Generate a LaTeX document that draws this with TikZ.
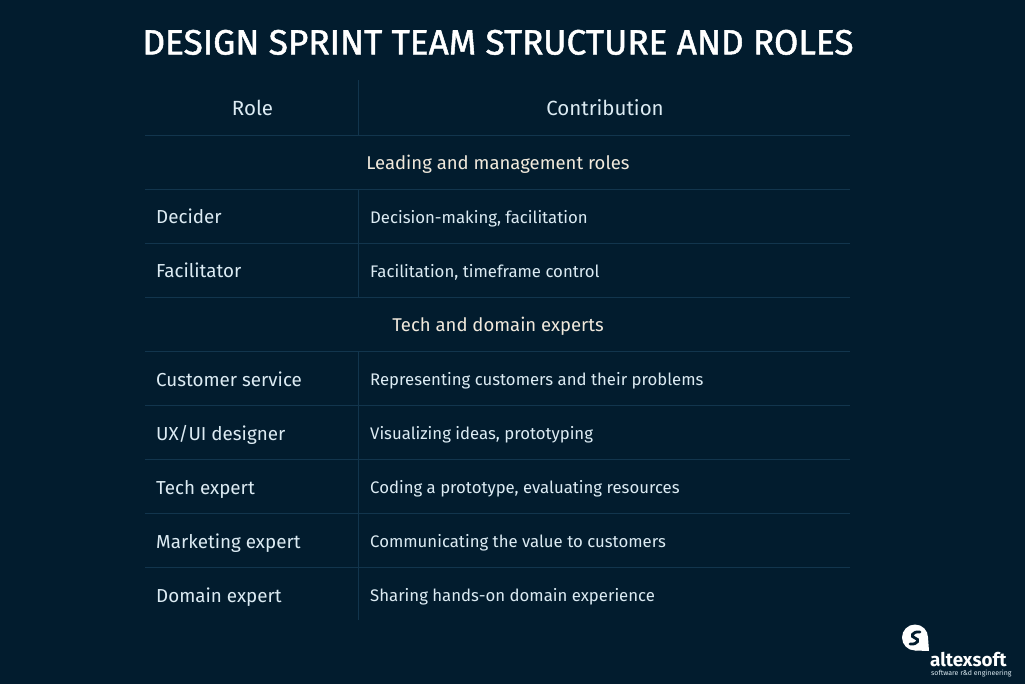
\documentclass[tikz,border=0pt]{standalone}
\usepackage{fontspec}
\setmainfont{Fira Sans}
\newfontfamily\titlefont[FakeBold=1.4]{Fira Sans}
\definecolor{bgcol}{HTML}{021C2E}
\definecolor{rulecol}{HTML}{12354D}
\definecolor{rolecol}{HTML}{DCEBF3}
\definecolor{sectcol}{HTML}{F1E9DC}
\begin{document}
\begin{tikzpicture}[x=1pt,y=-1pt,
  roletext/.style={anchor=base west,inner sep=0pt,text=rolecol,font=\fontsize{18.8}{19}\selectfont},
  conttext/.style={anchor=base west,inner sep=0pt,text=rolecol,font=\fontsize{16.75}{17}\selectfont},
  headtext/.style={anchor=base,inner sep=0pt,text=rolecol,font=\fontsize{20.5}{20}\selectfont},
  secttext/.style={anchor=base,inner sep=0pt,text=sectcol,font=\fontsize{18.5}{19}\selectfont},
  rowrule/.style={draw=rulecol,line width=1pt}]
    \fill[bgcol] (0,0) rectangle (1025,684);
    \useasboundingbox (0,0) rectangle (1025,684);
    \node[anchor=base,inner sep=0pt,text=white,font=\titlefont\fontsize{35.2}{35}\selectfont] (title) at (498,54.5) {DESIGN SPRINT TEAM STRUCTURE AND ROLES};
    % rules of the table
    \foreach \y/\name in {135.5/a,189.5/b,243.5/c,297.5/d,351.5/e,405.5/f,459.5/g,513.5/h,567.5/i} {
        \coordinate (l\name) at (145,\y);
        \coordinate (r\name) at (850,\y);
        \coordinate (m\name) at (358.5,\y);
        \draw[rowrule] (l\name) -- (r\name);
    }
    \coordinate (top) at (358.5,80);
    \coordinate (bot) at (358.5,620);
    \draw[rowrule] (top) -- (ma);
    \draw[rowrule] (mb) -- (md);
    \draw[rowrule] (me) -- (bot);
    % header
    \node[headtext] (role) at (252.5,116) {Role};
    \node[headtext] (contribution) at (605,116) {Contribution};
    \node[secttext] (leading) at (498,170) {Leading and management roles};
    \node[secttext] (tech) at (498,332) {Tech and domain experts};
    % rows
    \node[roletext] (decider) at (156,224) {Decider};
    \node[conttext] (deciderc) at (370,224) {Decision-making, facilitation};
    \node[roletext] (facil) at (156,278) {Facilitator};
    \node[conttext] (facilc) at (370,278) {Facilitation, timeframe control};
    \node[roletext] (customer) at (156,386) {Customer service};
    \node[conttext] (customerc) at (370,385.5) {Representing customers and their problems};
    \node[roletext] (uxui) at (156,440) {UX/UI designer};
    \node[conttext] (uxuic) at (370,439.5) {Visualizing ideas, prototyping};
    \node[roletext] (techexp) at (156,494) {Tech expert};
    \node[conttext] (techexpc) at (370,493.5) {Coding a prototype, evaluating resources};
    \node[roletext] (market) at (156,548) {Marketing expert};
    \node[conttext] (marketc) at (370,547.5) {Communicating the value to customers};
    \node[roletext] (domain) at (156,602) {Domain expert};
    \node[conttext] (domainc) at (370,601.5) {Sharing hands-on domain experience};
    % logo
    \fill[white] (915,637.5) circle[radius=13];
    \fill[white] (928,637.5) -- (929,651) -- (915,650.5) -- cycle;
    \draw[bgcol,line width=2.8pt,line cap=round] (920,632) .. controls (912,631) and (910,637) .. (915,638) .. controls (920,639) and (918,645) .. (910,644);
    \node[anchor=base west,inner sep=0pt,text=white,font=\fontsize{18.8}{19}\selectfont\bfseries] (logoname) at (930,666) {altexsoft};
    \node[anchor=base west,inner sep=0pt,text=rolecol,font=\fontsize{7}{7}\selectfont] (logosub) at (931,675) {software r\&d engineering};
\end{tikzpicture}
\end{document}
